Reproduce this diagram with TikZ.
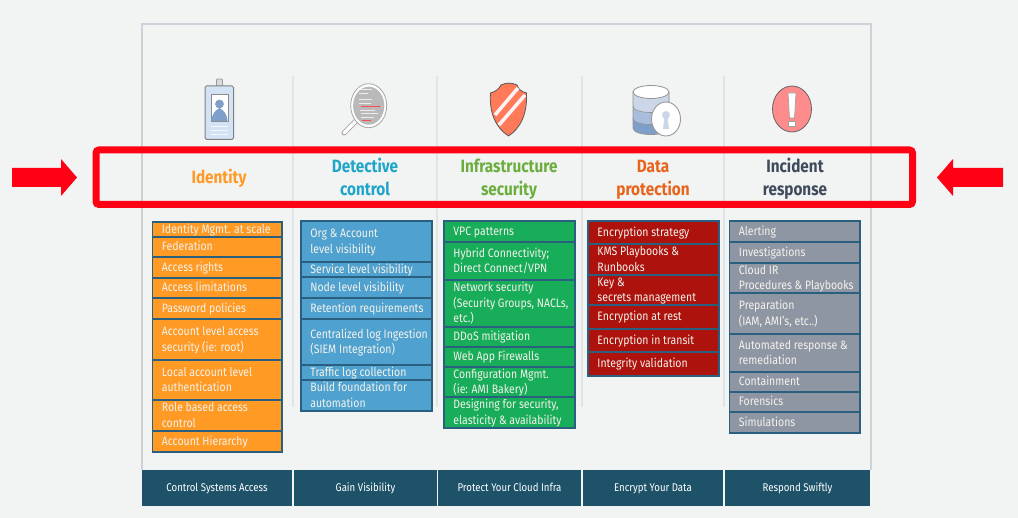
\documentclass[tikz,border=0pt]{standalone}
\usepackage{fontspec}
\setmainfont[FakeStretch=0.86]{Fira Sans}
\definecolor{bgc}{HTML}{F2F4F4}
\definecolor{framec}{HTML}{CDD2D8}
\definecolor{sepc}{HTML}{E1E4E6}
\definecolor{edgec}{HTML}{2B5F7F}
\definecolor{orangec}{HTML}{FF9A24}
\definecolor{bluec}{HTML}{4FA2CF}
\definecolor{greenc}{HTML}{17AD59}
\definecolor{redc}{HTML}{AD120D}
\definecolor{greyc}{HTML}{8F96A3}
\definecolor{footc}{HTML}{1D5269}
\definecolor{celltextc}{HTML}{F4F2EC}
\definecolor{alarm}{HTML}{FF0015}
\definecolor{tblue}{HTML}{1FA5C9}
\definecolor{tgreen}{HTML}{6CAE3E}
\definecolor{tred}{HTML}{E8631C}
\definecolor{tdark}{HTML}{3F4A5A}
\definecolor{band1}{HTML}{CBD6E8}
\definecolor{band2}{HTML}{A9BEDD}
\definecolor{band3}{HTML}{7F9FCB}
\definecolor{badgec}{HTML}{D3E3F5}
\tikzset{
  cellbox/.style={draw=edgec,line width=1.7pt,inner sep=0pt,outer sep=0pt,anchor=north west},
  celltext/.style={anchor=west,inner sep=0pt,align=left,text=celltextc,font=\fontsize{12.2}{15.5}\selectfont},
  footbox/.style={fill=footc,inner sep=0pt,outer sep=0pt,anchor=north west,minimum height=36pt,text height=8pt,text depth=0pt,text=white,font=\fontsize{11.2}{13}\selectfont},
  titletext/.style={inner sep=0pt,align=center,font=\fontsize{17.8}{23}\selectfont\bfseries},
  sepline/.style={draw=sepc,line width=1.2pt},
}
\newcommand\cell[7]{% style x width name top bottom text
  \pgfmathsetmacro\cellh{#6-#5}
  \node[cellbox,fill=#1,minimum width=#3pt,minimum height=\cellh pt] (#4) at (#2,#5) {};
  \node[celltext] (#4-t) at ([xshift=9.2pt,yshift=-.9pt]#4.west) {\strut #7\strut};
}
\newcommand\dbband[2]{% bottom y, colour
  \fill[#2] (633,92) -- (633,#1) .. controls (633,#1+8.7) and (669,#1+8.7) .. (669,#1) -- (669,92) -- cycle;
}
\begin{document}
\begin{tikzpicture}[x=1pt,y=-1pt]
\useasboundingbox (0,0) rectangle (1018,518);
\fill[bgc] (0,0) rectangle (1018,518);
% frame
\draw[framec,line width=1.2pt] (142,470) -- (142,24) -- (871,24) -- (871,470);
\foreach \x in {293,437,582,724} \draw[sepline] (\x,76) -- (\x,407);

% badge icon
\draw[draw=gray!80,fill=gray!30,line width=.8pt,rounded corners=1pt] (216.5,79) rectangle (222.5,90);
\draw[draw=gray!90,fill=gray!30,line width=.8pt,rounded corners=1pt] (214,87) rectangle (225,91.5);
\draw[draw=gray,fill=badgec,line width=1pt,rounded corners=1.5pt] (205,86) rectangle (233.5,139.5);
\fill[white] (211,94.5) rectangle (228,121);
\draw[gray!90,line width=.8pt] (211,94.5) rectangle (228,121);
\fill[band3] (219.5,104) circle (4.4);
\fill[band3] (211.5,121) .. controls (212,113) and (216,110) .. (219.5,108) .. controls (223,110) and (227,113) .. (227.5,121) -- cycle;
\foreach \y in {126,130,134} \draw[white!70!badgec,line width=.8pt] (211,\y) -- (228,\y);

% magnifier icon
\draw[gray!70,line width=5pt,line cap=round] (344,133) -- (356,121);
\draw[white,line width=3.4pt,line cap=round] (344,133) -- (356,121);
\draw[gray!70,fill=white,line width=.8pt] (368.7,105.7) ellipse (18 and 22);
\fill[gray!55] (368.7,105.7) ellipse (15.6 and 19);
\foreach \a/\b/\y in {360/372/89,359/368/93,359/372/99,359/371/103,361/382/106,360/375/110,361/378/113,361/374/117}
  \draw[white!85!gray,line width=.7pt] (\a,\y) -- (\b,\y);
\draw[red!70,line width=.7pt] (361,106) -- (381,106);
\draw[red!70,line width=.7pt] (362,120) -- (371,120);

% shield icon
\draw[gray!70!black,fill=red!60!orange!65!white,line width=.8pt] (490.5,93) .. controls (495,92) and (499,89) .. (501,85) .. controls (507,82.5) and (511,82.5) .. (517,85) .. controls (518,89) and (522,92) .. (526.5,93) .. controls (527.5,113) and (521,128) .. (508.5,136) .. controls (496,128) and (489,113) .. (490.5,93) -- cycle;
\draw[white!95!red,line width=3.5pt] (495,115) -- (518,88);
\draw[white!95!red,line width=3.5pt] (499,125) -- (525,95);

% database icon
\dbband{128}{band3}
\dbband{118}{band2}
\dbband{106}{band1}
\draw[gray!85,line width=.6pt] (633,106) .. controls (633,114.7) and (669,114.7) .. (669,106);
\draw[gray!85,line width=.6pt] (633,118) .. controls (633,126.7) and (669,126.7) .. (669,118);
\draw[gray!85,line width=.8pt] (633,92) -- (633,128) .. controls (633,136.7) and (669,136.7) .. (669,128) -- (669,92);
\draw[gray!85,fill=white,line width=.8pt] (651,92) ellipse (18 and 6.5);
\draw[gray!80,fill=white,line width=.9pt] (666,119) ellipse (14.5 and 17);
\fill[band1] (666,115) circle (4);
\fill[band1] (664.5,116) -- (663,129) -- (669,129) -- (667.5,116) -- cycle;

% incident icon
\draw[gray!80!black,fill=red!45!white,line width=.8pt] (792,109) ellipse (19.5 and 23);
\draw[gray!75,fill=white,line width=.7pt] (788,93) -- (796,93) -- (794.5,118) -- (789.5,118) -- cycle;
\draw[gray!75,fill=white,line width=.7pt] (788.5,121) rectangle (795.5,126);

% titles
\node[titletext,text=orangec] (t1) at (219,179) {\strut Identity\strut};
\node[titletext,text=tblue] (t2) at (365,179.5) {\strut Detective\\control\strut};
\node[titletext,text=tgreen] (t3) at (509,179.5) {\strut Infrastructure\\security\strut};
\node[titletext,text=tred] (t4) at (653,179.5) {\strut Data\\protection\strut};
\node[titletext,text=tdark] (t5) at (795,179.5) {\strut Incident\\response\strut};

% highlight
\draw[alarm,line width=7pt,rounded corners=3pt] (96,150) rectangle (912.5,204.5);
\fill[alarm] (12,168) -- (61,168) -- (61,159) -- (77,177.5) -- (61,196) -- (61,187) -- (12,187) -- cycle;
\fill[alarm] (1003,168) -- (953,168) -- (953,159) -- (937,177.5) -- (953,196) -- (953,187) -- (1003,187) -- cycle;

% identity
\cell{orangec}{152.5}{129.5}{a1}{222}{237}{Identity Mgmt. at scale}
\cell{orangec}{152.5}{129.5}{a2}{237}{257}{Federation}
\cell{orangec}{152.5}{129.5}{a3}{257}{278}{Access rights}
\cell{orangec}{152.5}{129.5}{a4}{278}{298}{Access limitations}
\cell{orangec}{152.5}{129.5}{a5}{298}{319}{Password policies}
\cell{orangec}{152.5}{129.5}{a6}{319}{360}{Account level access\\security (ie: root)}
\cell{orangec}{152.5}{129.5}{a7}{360}{400}{Local account level\\authentication}
\cell{orangec}{152.5}{129.5}{a8}{400}{431}{Role based access\\control}
\cell{orangec}{152.5}{129.5}{a9}{431}{452}{Account Hierarchy}
% detective
\cell{bluec}{301}{131}{b1}{221}{262}{Org \& Account\\level visibility}
\cell{bluec}{301}{131}{b2}{262}{277}{Service level visibility}
\cell{bluec}{301}{131}{b3}{277}{298}{Node level visibility}
\cell{bluec}{301}{131}{b4}{298}{319}{Retention requirements}
\cell{bluec}{301}{131}{b5}{319}{365}{Centralized log Ingestion\\(SIEM Integration)}
\cell{bluec}{301}{131}{b6}{365}{380}{Traffic log collection}
\cell{bluec}{301}{131}{b7}{380}{411}{Build foundation for\\automation}
% infrastructure
\cell{greenc}{444}{131}{c1}{221}{242}{VPC patterns}
\cell{greenc}{444}{131}{c2}{242}{280}{Hybrid Connectivity;\\Direct Connect/VPN}
\cell{greenc}{444}{131}{c3}{280}{327}{Network security\\(Security Groups, NACLs,\\etc.)}
\cell{greenc}{444}{131}{c4}{327}{347}{DDoS mitigation}
\cell{greenc}{444}{131}{c5}{347}{367}{Web App Firewalls}
\cell{greenc}{444}{131}{c6}{367}{397}{Configuration Mgmt.\\(ie: AMI Bakery)}
\cell{greenc}{444}{131}{c7}{397}{428}{Designing for security,\\elasticity \& availability}
% data
\cell{redc}{588}{131}{d1}{221}{244}{Encryption strategy}
\cell{redc}{588}{131}{d2}{244}{275}{KMS Playbooks \&\\Runbooks}
\cell{redc}{588}{131}{d3}{275}{305}{Key \&\\secrets management}
\cell{redc}{588}{131}{d4}{305}{329}{Encryption at rest}
\cell{redc}{588}{131}{d5}{329}{352}{Encryption in transit}
\cell{redc}{588}{131}{d6}{352}{376}{Integrity validation}
% incident
\cell{greyc}{729.5}{130.5}{e1}{221}{242}{Alerting}
\cell{greyc}{729.5}{130.5}{e2}{242}{263}{Investigations}
\cell{greyc}{729.5}{130.5}{e3}{263}{293}{Cloud IR\\Procedures \& Playbooks}
\cell{greyc}{729.5}{130.5}{e4}{293}{334}{Preparation\\(IAM, AMI's, etc..)}
\cell{greyc}{729.5}{130.5}{e5}{334}{372}{Automated response \&\\remediation}
\cell{greyc}{729.5}{130.5}{e6}{372}{392}{Containment}
\cell{greyc}{729.5}{130.5}{e7}{392}{412}{Forensics}
\cell{greyc}{729.5}{130.5}{e8}{412}{433}{Simulations}

% footer
\node[footbox,minimum width=150pt] (f1) at (142,470) {Control Systems Access};
\node[footbox,minimum width=143pt] (f2) at (294,470) {Gain Visibility};
\node[footbox,minimum width=143pt] (f3) at (438,470) {Protect Your Cloud Infra};
\node[footbox,minimum width=140pt] (f4) at (583,470) {Encrypt Your Data};
\node[footbox,minimum width=145pt] (f5) at (725,470) {Respond Swiftly};
\end{tikzpicture}
\end{document}
